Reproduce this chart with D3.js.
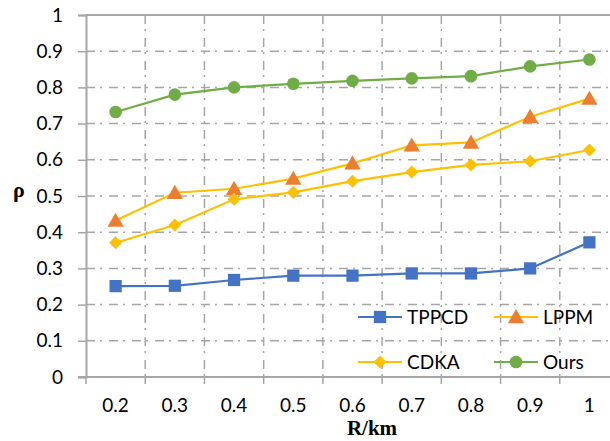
<!DOCTYPE html>
<html><head><meta charset="utf-8">
<script src="https://cdn.jsdelivr.net/npm/d3@7/dist/d3.min.js"></script>
<style>body{margin:0;background:#fff;}svg{display:block;}</style>
</head><body>
<svg id="c" width="610" height="441"></svg>
<script>
const categories = ["0.2","0.3","0.4","0.5","0.6","0.7","0.8","0.9","1"];
const yTicks = [0,0.1,0.2,0.3,0.4,0.5,0.6,0.7,0.8,0.9,1];
const yTickLabels = ["0","0.1","0.2","0.3","0.4","0.5","0.6","0.7","0.8","0.9","1"];
const tppcd = [0.251,0.252,0.268,0.280,0.280,0.286,0.286,0.300,0.372];
const lppm  = [0.432,0.509,0.520,0.548,0.590,0.640,0.648,0.719,0.769];
const cdka  = [0.371,0.420,0.491,0.510,0.541,0.566,0.586,0.596,0.627];
const ours  = [0.732,0.780,0.800,0.810,0.818,0.825,0.831,0.858,0.877];
const seriesNames = ["TPPCD","LPPM","CDKA","Ours"];

const series = [
  {name:"TPPCD", values:tppcd, line:"#4472c4", fill:"#4472c4", shape:"square"},
  {name:"LPPM",  values:lppm,  line:"#ffc000", fill:"#ed7d31", shape:"triangle"},
  {name:"CDKA",  values:cdka,  line:"#ffc000", fill:"#ffc000", shape:"diamond"},
  {name:"Ours",  values:ours,  line:"#70ad47", fill:"#70ad47", shape:"circle"}
];

const svg = d3.select("#c");
const L = 86, R = 619, T = 15, B = 377;
const x = d3.scaleBand().domain(categories).range([L, R]);
const y = d3.scaleLinear().domain([0,1]).range([B, T]);
const grid = "#a6a6a6";
const font = "Lato, 'Open Sans', sans-serif";

// grid lines
const g = svg.append("g");
g.selectAll("line.h").data(yTicks.slice(1,-1)).enter().append("line")
  .attr("x1", L).attr("x2", R).attr("y1", d=>y(d)).attr("y2", d=>y(d))
  .attr("stroke", grid).attr("stroke-width", 1.5).attr("stroke-dasharray","9,5,2,7");
const bounds = categories.slice(1).map(c => x(c));
g.selectAll("line.v").data(bounds).enter().append("line")
  .attr("x1", d=>d).attr("x2", d=>d).attr("y1", T).attr("y2", B)
  .attr("stroke", grid).attr("stroke-width", 1.5).attr("stroke-dasharray","9,5,2,7");

// top border
svg.append("line").attr("x1", L).attr("x2", R).attr("y1", T).attr("y2", T)
  .attr("stroke", grid).attr("stroke-width", 2);

// axes
const yAxis = d3.axisLeft(y).tickValues(yTicks).tickSize(8).tickFormat((d,i)=>yTickLabels[i]);
const ya = svg.append("g").attr("transform", `translate(${L},0)`).call(yAxis);
ya.select(".domain").attr("stroke", grid).attr("stroke-width", 2);
ya.selectAll(".tick line").attr("stroke", grid).attr("stroke-width", 1.5);
ya.selectAll(".tick text").attr("x", -23).attr("font-family", font).attr("font-size", 19).attr("fill", "#000");

const xa = svg.append("g").attr("transform", `translate(0,${B})`);
xa.append("line").attr("x1", L-8).attr("x2", R).attr("y1", 0).attr("y2", 0).attr("stroke", grid).attr("stroke-width", 2);
xa.selectAll("line.t").data([L].concat(bounds)).enter().append("line")
  .attr("x1", d=>d).attr("x2", d=>d).attr("y1", 0).attr("y2", 7).attr("stroke", grid).attr("stroke-width", 1.5);
xa.selectAll("text").data(categories).enter().append("text")
  .attr("x", d=>x(d)+x.bandwidth()/2).attr("y", 35)
  .attr("text-anchor","middle").attr("font-family", font).attr("font-size", 19).text(d=>d);

// titles
svg.append("text").attr("x", 19).attr("y", 197).attr("text-anchor","middle")
  .attr("font-family","'Liberation Serif', 'Times New Roman', serif").attr("font-weight","bold").attr("font-size", 22).text("ρ");
svg.append("text").attr("x", 372).attr("y", 435).attr("text-anchor","middle")
  .attr("font-family","'Liberation Serif', 'Times New Roman', serif").attr("font-weight","bold").attr("font-size", 21).text("R/km");

// markers
function sym(shape){
  const m = {square:[d3.symbolSquare,150], triangle:[d3.symbolTriangle,115], diamond:[d3.symbolSquare,85], circle:[d3.symbolCircle,125]}[shape];
  return d3.symbol().type(m[0]).size(m[1])();
}
function rot(shape){ return shape==="diamond" ? " rotate(45)" : ""; }
const cx = c => x(c) + x.bandwidth()/2;
const line = d3.line().x((d,i)=>cx(categories[i])).y(d=>y(d));
series.forEach(s => {
  svg.append("path").attr("d", line(s.values)).attr("fill","none").attr("stroke", s.line).attr("stroke-width", 2.2);
  svg.append("g").selectAll("path").data(s.values).enter().append("path")
    .attr("d", sym(s.shape))
    .attr("transform", (d,i)=>`translate(${cx(categories[i])},${y(d) + (s.shape==="triangle"?1.5:0)})${rot(s.shape)}`)
    .attr("fill", s.fill);
});

// legend
const legPos = [[358,317],[494,317],[358,362],[494,362]];
series.forEach((s,i) => {
  const [lx,ly] = legPos[i];
  const lg = svg.append("g").attr("transform", `translate(${lx},${ly})`);
  lg.append("line").attr("x1",0).attr("x2",44).attr("y1",0).attr("y2",0).attr("stroke", s.line).attr("stroke-width", 2.2);
  lg.append("path").attr("d", sym(s.shape)).attr("transform", `translate(22,${s.shape==="triangle"?1.5:0})${rot(s.shape)}`).attr("fill", s.fill);
  lg.append("text").attr("x", 49).attr("y", 0).attr("dy","0.35em")
    .attr("font-family", font).attr("font-size", 19).text(seriesNames[i]);
});
</script>
</body></html>
